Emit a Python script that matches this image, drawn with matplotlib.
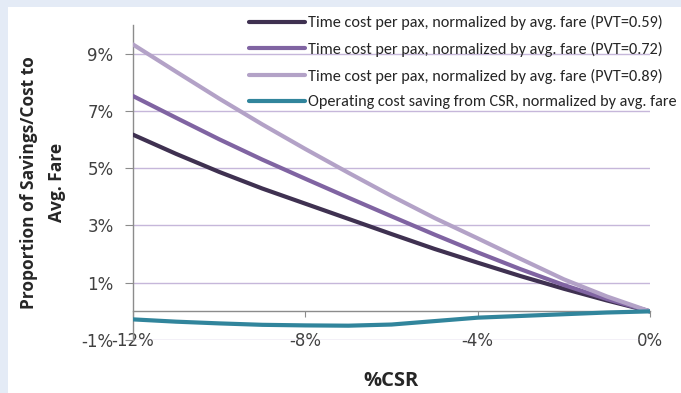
import matplotlib
matplotlib.use("Agg")
import matplotlib.pyplot as plt
from matplotlib import font_manager
from matplotlib.patches import Rectangle
from matplotlib.ticker import FuncFormatter

# data (percent units)
csr = [-12, -11, -10, -9, -8, -7, -6, -5, -4, -3, -2, -1, 0]
time_pvt059 = [6.17, 5.50, 4.87, 4.29, 3.76, 3.23, 2.70, 2.18, 1.70, 1.23, 0.79, 0.38, 0.0]
time_pvt072 = [7.52, 6.76, 6.01, 5.30, 4.63, 3.97, 3.32, 2.68, 2.06, 1.47, 0.92, 0.43, 0.0]
time_pvt089 = [9.32, 8.37, 7.43, 6.53, 5.67, 4.84, 4.03, 3.26, 2.55, 1.83, 1.12, 0.52, 0.0]
op_saving = [-0.28, -0.36, -0.42, -0.47, -0.49, -0.50, -0.46, -0.34, -0.22, -0.16, -0.10, -0.04, 0.0]

labels = [
    "Time cost per pax, normalized by avg. fare (PVT=0.59)",
    "Time cost per pax, normalized by avg. fare (PVT=0.72)",
    "Time cost per pax, normalized by avg. fare (PVT=0.89)",
    "Operating cost saving from CSR, normalized by avg. fare",
]
colors = ["#3f3151", "#8064a2", "#b3a2c7", "#31859c"]
yticks = [-1, 1, 3, 5, 7, 9]
xticks = [-12, -8, -4, 0]


def pick_font(candidates):
    names = {f.name for f in font_manager.fontManager.ttflist}
    for c in candidates:
        if c in names:
            return c
    return "DejaVu Sans"


legend_font = pick_font(["Carlito", "Lato"])
label_font = pick_font(["Open Sans", "Lato"])
tick_font = "DejaVu Sans"
plt.rcParams["font.family"] = [legend_font, "DejaVu Sans"]

W, H = 681, 393
fig = plt.figure(figsize=(W / 100, H / 100), dpi=100, facecolor="#e4ebf6")
fig.add_artist(Rectangle((8 / W, 0), 1, 1 - 7 / H, transform=fig.transFigure,
                         facecolor="white", edgecolor="none", zorder=-5))

ax = fig.add_axes([133 / W, 1 - 340 / H, 517 / W, 315 / H])
ax.patch.set_alpha(0)

series = [time_pvt059, time_pvt072, time_pvt089, op_saving]
for vals, col, lab in zip(series, colors, labels):
    ax.plot(csr, vals, color=col, lw=3.0, label=lab, zorder=3,
            solid_capstyle="round", solid_joinstyle="round")

ax.set_xlim(-12, 0)
ax.set_ylim(-1, 10)
ax.set_yticks(yticks)
ax.set_xticks(xticks)
pct = FuncFormatter(lambda v, _: f"{v:.0f}%")
ax.yaxis.set_major_formatter(pct)
ax.xaxis.set_major_formatter(pct)

ax.set_axisbelow(True)
ax.yaxis.grid(True, color="#c6b7da", lw=1.0)

for s in ("top", "right"):
    ax.spines[s].set_visible(False)
ax.spines["bottom"].set_position(("data", 0))
for s in ("left", "bottom"):
    ax.spines[s].set_color("#8c8c8c")
    ax.spines[s].set_linewidth(1.0)

ax.tick_params(axis="y", direction="out", length=6, color="#8c8c8c", pad=8,
               labelsize=12, labelcolor="#404040")
ax.tick_params(axis="x", direction="out", length=4, color="#8c8c8c", pad=11,
               labelsize=12, labelcolor="#404040")
for t in ax.get_xticklabels() + ax.get_yticklabels():
    t.set_family(tick_font)

ax.set_ylabel("Proportion of Savings/Cost to\nAvg. Fare", fontsize=12.5, fontweight="bold",
              color="#262626", linespacing=1.75, family=label_font, va="center")
ax.yaxis.set_label_coords(-0.174, 0.5)
ax.set_xlabel("%CSR", fontsize=14.5, fontweight="bold", color="#262626",
              family=label_font, va="center")
ax.xaxis.set_label_coords(0.5, -0.13)

# white block behind the legend hides the gridlines there, as in the original
fig.add_artist(Rectangle((237 / W, 1 - 116 / H), 432 / W, 109 / H, transform=fig.transFigure,
                         facecolor="white", edgecolor="none", zorder=0.5))
ax.set_zorder(1)

leg = ax.legend(loc="upper left", bbox_to_anchor=(246 / W, 1 - 12 / H),
                bbox_transform=fig.transFigure, fontsize=11.7, frameon=False,
                handlelength=3.45, handletextpad=0.18, labelspacing=0.71,
                borderpad=0.2, borderaxespad=0)
for h in leg.get_lines():
    h.set_linewidth(3.0)
for t in leg.get_texts():
    t.set_color("#262626")

fig.savefig("out.png", dpi=100)
